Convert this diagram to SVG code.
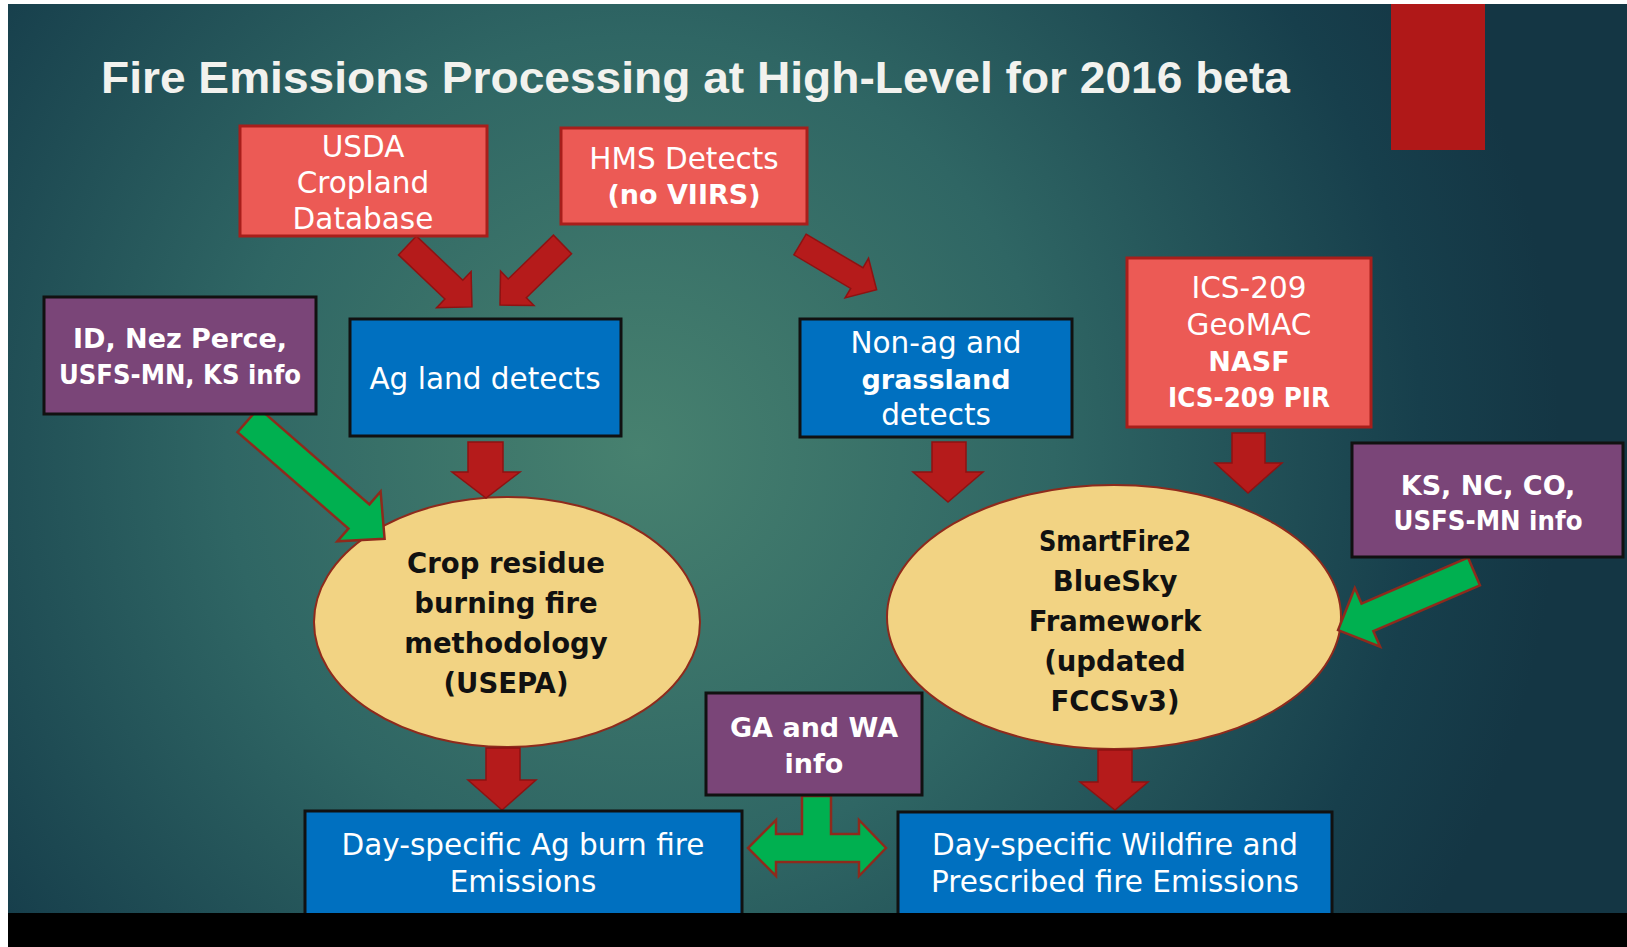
<svg xmlns="http://www.w3.org/2000/svg" width="1627" height="947" viewBox="0 0 1627 947">
<defs>
<radialGradient id="bg" gradientUnits="userSpaceOnUse" cx="640" cy="450" r="920">
<stop offset="0" stop-color="#47816F"/>
<stop offset="0.45" stop-color="#2F6664"/>
<stop offset="0.85" stop-color="#173F4C"/>
<stop offset="1" stop-color="#143644"/>
</radialGradient>
<style>
.red{fill:#EC5A55;stroke:#A81E1B;stroke-width:3}
.pur{fill:#7A4578;stroke:#111;stroke-width:3}
.blu{fill:#0070C0;stroke:#111;stroke-width:3}
.ell{fill:#F2D383;stroke:#8E2A1C;stroke-width:2}
.ra{fill:#B51B1B;stroke:#8E1212;stroke-width:1.5}
.ga{fill:#00B050;stroke:#8E2A1C;stroke-width:2.5}
text{font-family:"DejaVu Sans","Liberation Sans",sans-serif;text-anchor:middle}
.w{fill:#FFFFFF;font-size:29.5px}
.wb{fill:#FFFFFF;font-size:27px;font-weight:bold}
.kb{fill:#111;font-size:27.5px;font-weight:bold}
</style>
</defs>
<rect x="0" y="0" width="1627" height="947" fill="#FFFFFF"/>
<rect x="8" y="4" width="1619" height="909" fill="url(#bg)"/>
<rect x="1391" y="4" width="94" height="146" fill="#B01818"/>
<text x="101" y="93" textLength="1189" lengthAdjust="spacingAndGlyphs" style="text-anchor:start;font-family:'Liberation Sans',sans-serif;font-weight:bold;font-size:44px;fill:#F2F2EE">Fire Emissions Processing at High-Level for 2016 beta</text>

<g id="ellipses">
<g id="crop"><ellipse class="ell" cx="507" cy="622" rx="193" ry="125"/>
<text class="kb" x="506" y="573">Crop residue</text>
<text class="kb" x="506" y="613">burning fire</text>
<text class="kb" x="506" y="653">methodology</text>
<text class="kb" x="506" y="693">(USEPA)</text></g>
<g id="smartfire"><ellipse class="ell" cx="1114" cy="617" rx="227" ry="132"/>
<text class="kb" x="1115" y="551" textLength="152" lengthAdjust="spacingAndGlyphs">SmartFire2</text>
<text class="kb" x="1115" y="591">BlueSky</text>
<text class="kb" x="1115" y="631">Framework</text>
<text class="kb" x="1115" y="671">(updated</text>
<text class="kb" x="1115" y="711">FCCSv3)</text></g>
</g>

<g id="connectors">
<polygon class="ra" transform="translate(407.5 245.5) rotate(43.6)" points="0,-13 64,-13 64,-25 89,0 64,25 64,13 0,13"/>
<polygon class="ra" transform="translate(562.5 244.5) rotate(135.9)" points="0,-13 63,-13 63,-24 87,0 63,24 63,13 0,13"/>
<polygon class="ra" transform="translate(800 244.5) rotate(30.6)" points="0,-12 66,-12 66,-23 89,0 66,23 66,12 0,12"/>
<polygon class="ra" points="468,442 503,442 503,472 520,472 486,498 452,472 468,472"/>
<polygon class="ra" points="932,442 966,442 966,472 983,472 948,502 913,472 932,472"/>
<polygon class="ra" points="1232,433 1265,433 1265,463 1282,463 1248,493 1215,463 1232,463"/>
<polygon class="ra" points="486,748 520,748 520,780 536,780 502,810 468,780 486,780"/>
<polygon class="ra" points="1098,750 1132,750 1132,782 1148,782 1115,810 1080,782 1098,782"/>
<polygon class="ga" transform="translate(248 420) rotate(41)" points="0,-16 147,-16 147,-33 181,0 147,33 147,16 0,16"/>
<polygon class="ga" transform="translate(1474 571.5) rotate(156.7)" points="0,-15 116,-15 116,-32 148,0 116,32 116,15 0,15"/>
<path class="ga" d="M802 796 L831 796 L831 834 L859 834 L859 820 L886 848 L859 876 L859 862 L776 862 L776 876 L748 848 L776 820 L776 834 L802 834 Z"/>
</g>

<g id="usda"><rect class="red" x="240" y="126" width="247" height="110"/>
<text class="w" x="363" y="157">USDA</text>
<text class="w" x="363" y="193">Cropland</text>
<text class="w" x="363" y="229">Database</text></g>

<g id="hms"><rect class="red" x="561" y="128" width="246" height="96"/>
<text class="w" x="684" y="169">HMS Detects</text>
<text class="wb" x="684" y="204">(no VIIRS)</text></g>

<g id="idnez"><rect class="pur" x="44" y="297" width="272" height="117"/>
<text class="wb" x="180" y="348">ID, Nez Perce,</text>
<text class="wb" x="180" y="384" textLength="242" lengthAdjust="spacingAndGlyphs">USFS-MN, KS info</text></g>

<g id="agland"><rect class="blu" x="350" y="319" width="271" height="117"/>
<text class="w" x="485" y="389">Ag land detects</text></g>

<g id="nonag"><rect class="blu" x="800" y="319" width="272" height="118"/>
<text class="w" x="936" y="353">Non-ag and</text>
<text class="wb" x="936" y="389">grassland</text>
<text class="w" x="936" y="425">detects</text></g>

<g id="ics"><rect class="red" x="1127" y="258" width="244" height="169"/>
<text class="w" x="1249" y="298">ICS-209</text>
<text class="w" x="1249" y="335">GeoMAC</text>
<text class="wb" x="1249" y="371">NASF</text>
<text class="wb" x="1249" y="407" textLength="162" lengthAdjust="spacingAndGlyphs">ICS-209 PIR</text></g>

<g id="ksnc"><rect class="pur" x="1352" y="443" width="271" height="114"/>
<text class="wb" x="1488" y="495">KS, NC, CO,</text>
<text class="wb" x="1488" y="530" textLength="189" lengthAdjust="spacingAndGlyphs">USFS-MN info</text></g>

<g id="gawa"><rect class="pur" x="706" y="693" width="216" height="102"/>
<text class="wb" x="814" y="737">GA and WA</text>
<text class="wb" x="814" y="773">info</text></g>

<g id="dayag"><rect class="blu" x="305" y="811" width="437" height="104"/>
<text class="w" x="523" y="855">Day-specific Ag burn fire</text>
<text class="w" x="523" y="892">Emissions</text></g>

<g id="daywild"><rect class="blu" x="898" y="812" width="434" height="103"/>
<text class="w" x="1115" y="855">Day-specific Wildfire and</text>
<text class="w" x="1115" y="892">Prescribed fire Emissions</text></g>
<rect x="8" y="913" width="1619" height="34" fill="#000"/>
</svg>
